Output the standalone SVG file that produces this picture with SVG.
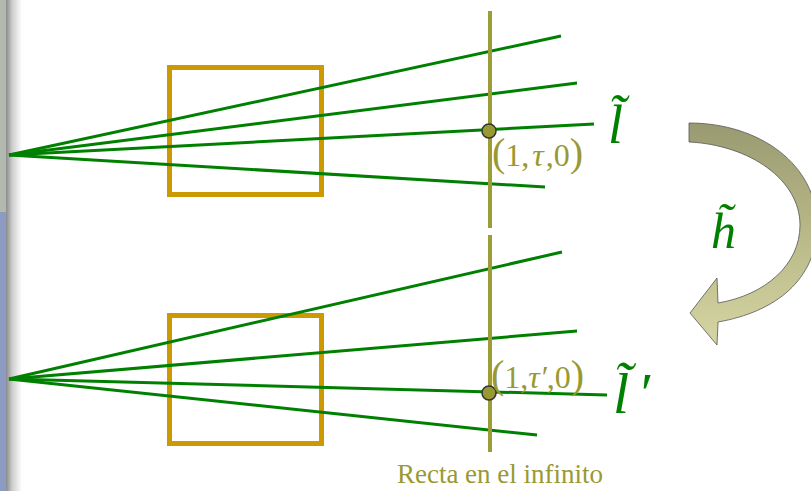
<svg xmlns="http://www.w3.org/2000/svg" width="811" height="491" viewBox="0 0 811 491">
<defs>
<linearGradient id="shade" x1="0" y1="0" x2="1" y2="0">
<stop offset="0" stop-color="#8a8a8a"/>
<stop offset="0.4" stop-color="#cfcfcf"/>
<stop offset="1" stop-color="#ffffff"/>
</linearGradient>
<linearGradient id="arrowFill" x1="0" y1="0" x2="0" y2="1">
<stop offset="0" stop-color="#9a9a72"/>
<stop offset="0.5" stop-color="#b8b888"/>
<stop offset="1" stop-color="#d6d6a4"/>
</linearGradient>
<style>
.ray{stroke:#008000;stroke-width:3;fill:none;stroke-linecap:butt}
.box{fill:none;stroke:#cc9900;stroke-width:5}
.inf{stroke:#9c9c38;stroke-width:4}
.pt{fill:#999933;stroke:#333;stroke-width:1.5}
.coord{font-family:"Liberation Serif",serif;fill:#999933;font-size:32px}
.sym{font-family:"Liberation Serif",serif;font-style:italic;fill:#008000}
.cap{font-family:"Liberation Serif",serif;fill:#999933;font-size:27px}
</style>
</defs>
<rect width="811" height="491" fill="#ffffff"/>
<g id="side-strip">
<rect x="0" y="0" width="6" height="212" fill="#b2b9ae"/>
<rect x="0" y="212" width="6" height="279" fill="#8c9bc2"/>
<rect x="6" y="0" width="16" height="491" fill="url(#shade)"/>
</g>
<g id="box-top"><rect class="box" x="169.5" y="67.5" width="152" height="127"/></g>
<g id="box-bottom"><rect class="box" x="169.5" y="315.5" width="152" height="128"/></g>
<g id="connectors">
<line class="ray" x1="9" y1="155" x2="561" y2="36"/>
<line class="ray" x1="9" y1="155" x2="577" y2="83"/>
<line class="ray" x1="9" y1="155" x2="594" y2="124"/>
<line class="ray" x1="9" y1="155" x2="545" y2="187"/>
<line class="ray" x1="9" y1="379" x2="562" y2="252"/>
<line class="ray" x1="9" y1="379" x2="577" y2="331"/>
<line class="ray" x1="9" y1="379" x2="607" y2="395"/>
<line class="ray" x1="9" y1="379" x2="537" y2="435"/>
</g>
<g id="line-infinity">
<line class="inf" x1="490" y1="11" x2="490" y2="228"/>
<line class="inf" x1="490" y1="235" x2="490" y2="452"/>
</g>
<g id="point-top">
<circle class="pt" cx="489" cy="131" r="7"/>
<text class="coord" x="492" y="166"><tspan font-size="40">(</tspan><tspan>1,</tspan><tspan font-style="italic" dx="3">τ</tspan><tspan dx="2">,0</tspan><tspan font-size="40">)</tspan></text>
</g>
<g id="point-bottom">
<circle class="pt" cx="489" cy="393" r="7"/>
<text class="coord" x="491" y="388"><tspan font-size="40">(</tspan><tspan>1,</tspan><tspan font-style="italic">τ′</tspan><tspan>,0</tspan><tspan font-size="40">)</tspan></text>
</g>
<g id="label-l">
<text class="sym" x="608" y="143" font-size="54">l&#x303;</text>
</g>
<g id="label-lprime">
<text class="sym" x="613" y="413" font-size="58">l&#x303;<tspan dx="8">′</tspan></text>
</g>
<g id="transform-arrow">
<path d="M689,123 L689,142 C750,145 800,180 800,225 C800,265 765,295 718,303 L717,278 L690,313 L717,345 L718,322 C775,312 817,280 817,225 C817,165 760,123 689,123 Z" fill="url(#arrowFill)" stroke="#555" stroke-width="0.8"/>
</g>
<g id="label-h">
<text class="sym" x="711" y="248" font-size="50">h&#x303;</text>
</g>
<g id="caption">
<text class="cap" x="500" y="483" text-anchor="middle">Recta en el infinito</text>
</g>
</svg>
